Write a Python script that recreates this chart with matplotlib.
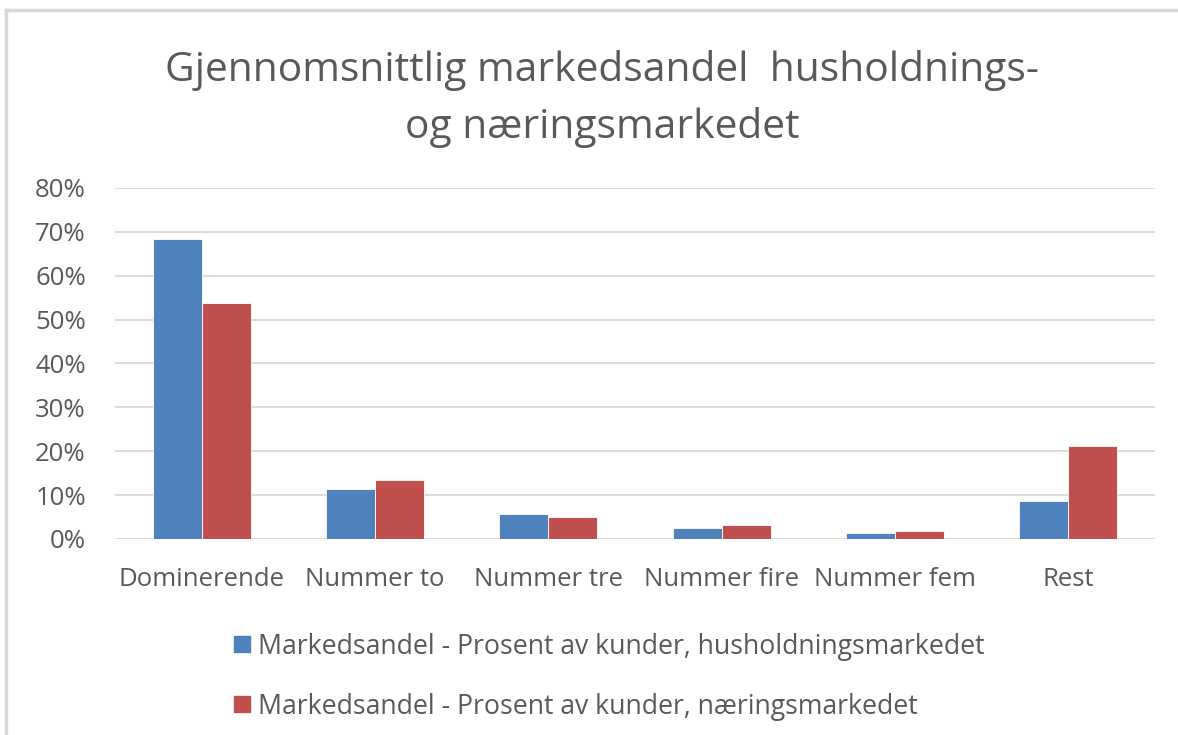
import matplotlib
matplotlib.use("Agg")
import matplotlib.pyplot as plt
import numpy as np
from matplotlib.lines import Line2D

# data (percent)
categories = ["Dominerende", "Nummer to", "Nummer tre", "Nummer fire", "Nummer fem", "Rest"]
husholdning = [68.3, 11.3, 5.8, 2.5, 1.4, 8.7]
naering = [53.8, 13.4, 5.1, 3.2, 1.8, 21.1]
series_names = ["Markedsandel - Prosent av kunder, husholdningsmarkedet",
                "Markedsandel - Prosent av kunder, næringsmarkedet"]
title = "Gjennomsnittlig markedsandel  husholdnings-\nog næringsmarkedet"

plt.rcParams['font.family'] = ['Open Sans', 'DejaVu Sans']
txt = "#595959"
blue = "#4F81BD"
red = "#C0504D"

fig = plt.figure(figsize=(11.78, 7.35), dpi=100)
ax = fig.add_axes([115/1178, 1 - 539/735, 1040/1178, 351/735])

x = np.arange(len(categories))
w = 0.283
ax.bar(x - w/2, husholdning, w, color=blue, edgecolor="white", linewidth=0.6, label=series_names[0], zorder=3)
ax.bar(x + w/2, naering, w, color=red, edgecolor="white", linewidth=0.6, label=series_names[1], zorder=3)

ax.set_xlim(-0.5, len(categories) - 0.5)
ax.set_ylim(0, 80)
ax.set_yticks(range(0, 81, 10))
ax.set_yticklabels([f"{v}%" for v in range(0, 81, 10)])
ax.set_xticks(x)
ax.set_xticklabels(categories)
ax.yaxis.grid(True, color="#D9D9D9", linewidth=1.3, zorder=0)
for s in ax.spines.values():
    s.set_visible(False)
ax.tick_params(axis="both", length=0, labelsize=18.5, colors=txt)
ax.tick_params(axis="y", pad=21)
ax.tick_params(axis="x", pad=20)

fig.text(0.511, 1 - 99/735, title, ha="center", va="center", fontsize=29.3, color=txt,
         linespacing=1.5)

handles = [Line2D([], [], marker="s", linestyle="none", markersize=12, color=c) for c in (blue, red)]
fig.legend(handles, series_names, loc="upper left", bbox_to_anchor=(218/1178, 1 - 622/735),
           frameon=False, fontsize=19.2, labelcolor=txt, handletextpad=0.1,
           labelspacing=1.2, handlelength=1.0, borderaxespad=0)

# light frame around the chart area (top and left edges)
fig.add_artist(Line2D([6/1178, 1], [1 - 10/735] * 2, color="#D9D9D9", linewidth=2.5))
fig.add_artist(Line2D([6/1178] * 2, [0, 1 - 10/735], color="#D9D9D9", linewidth=2.5))

fig.savefig("out.png", dpi=100, facecolor="white")
